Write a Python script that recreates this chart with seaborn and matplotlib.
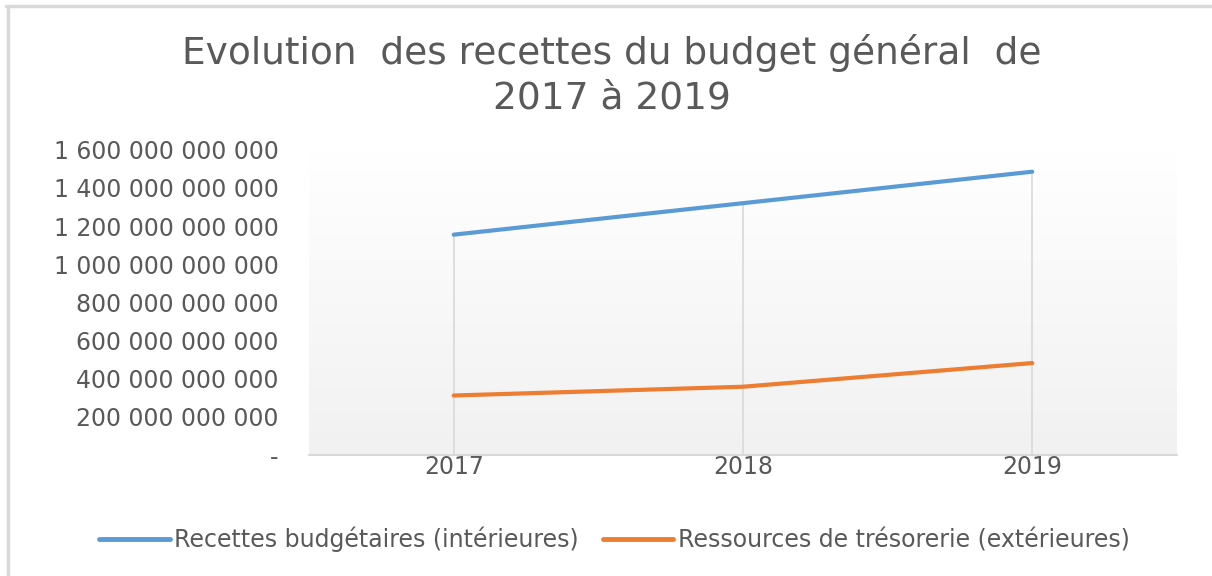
import numpy as np
import pandas as pd
import matplotlib
matplotlib.use('Agg')
import matplotlib.pyplot as plt
from matplotlib.ticker import FuncFormatter
from matplotlib.lines import Line2D
import seaborn as sns

# donnees
annees = [2017, 2018, 2019]
recettes_interieures = [1155e9, 1320e9, 1485e9]
ressources_exterieures = [312e9, 358e9, 482e9]
serie_noms = ['Recettes budgétaires (intérieures)', 'Ressources de trésorerie (extérieures)']
couleurs = ['#5B9BD5', '#ED7D31']
titre = 'Evolution  des recettes du budget général  de\n2017 à 2019'

df = pd.DataFrame({
    'annee': annees * 2,
    'montant': recettes_interieures + ressources_exterieures,
    'serie': [serie_noms[0]] * 3 + [serie_noms[1]] * 3,
})

sns.set_style('white')
plt.rcParams['font.family'] = ['DejaVu Sans']
gris = '#595959'

fig = plt.figure(figsize=(12.12, 5.76), dpi=100)
ax = fig.add_axes([0.255, 0.21, 0.716, 0.53])

# fond en degrade (blanc en haut, gris clair en bas)
grad = np.linspace(0, 1, 256).reshape(-1, 1)
ax.imshow(grad, extent=[2016.5, 2019.5, 0, 1.6e12], aspect='auto',
          cmap=matplotlib.colors.LinearSegmentedColormap.from_list('g', ['#f1f1f1', '#ffffff']),
          origin='lower', zorder=0)

# lignes de projection
ax.vlines(annees, 0, recettes_interieures, color='#d9d9d9', lw=1.2, zorder=1)

sns.lineplot(data=df, x='annee', y='montant', hue='serie', palette=couleurs,
             lw=3, ax=ax, legend=False, zorder=3, solid_capstyle='round')

ax.set_xlim(2016.5, 2019.5)
ax.set_ylim(0, 1.6e12)
ax.set_xticks(annees)
ax.set_yticks(np.arange(0, 1.61e12, 2e11))

def fmt(v, pos):
    if v == 0:
        return '-'
    return '{:,.0f}'.format(v).replace(',', ' ')

ax.yaxis.set_major_formatter(FuncFormatter(fmt))
ax.tick_params(axis='both', labelsize=17, colors=gris, length=0)
ax.tick_params(axis='y', pad=22)
ax.tick_params(axis='x', pad=0)
ax.set_xlabel('')
ax.set_ylabel('')
for s in ['top', 'right', 'left']:
    ax.spines[s].set_visible(False)
ax.spines['bottom'].set_color('#d9d9d9')
ax.spines['bottom'].set_linewidth(1.5)

fig.text(0.505, 0.87, titre, ha='center', va='center', fontsize=27,
         color=gris, linespacing=1.3)

handles = [Line2D([0], [0], color=c, lw=3.5, solid_capstyle='round') for c in couleurs]
fig.legend(handles, serie_noms, loc='center', bbox_to_anchor=(0.507, 0.063), ncol=2,
           frameon=False, fontsize=17, labelcolor=gris, handlelength=3.0,
           handletextpad=0.2, columnspacing=1.0)

# bordure gauche et haute
fig.add_artist(Line2D([0.0065, 0.0065], [0, 0.99], color='#d9d9d9', lw=2.5))
fig.add_artist(Line2D([0.005, 1], [0.99, 0.99], color='#d9d9d9', lw=2.5))

fig.savefig('out.png', dpi=100)
